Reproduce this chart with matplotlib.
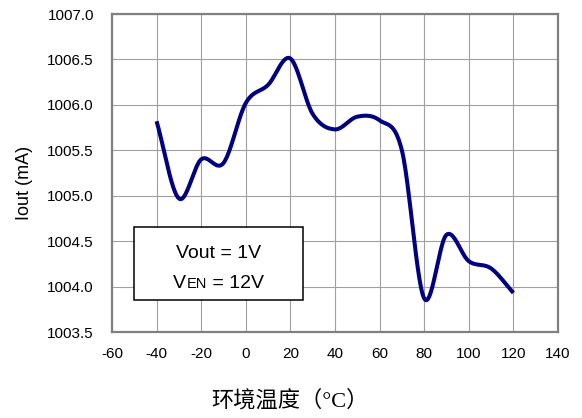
import matplotlib
matplotlib.use("Agg")
import matplotlib.pyplot as plt
import numpy as np

plt.rcParams['font.family'] = ['Liberation Sans', 'DejaVu Sans']

# data
temp = [-40, -30, -20, -10, 0, 10, 20, 30, 40, 50, 60, 70, 80, 90, 100, 110, 120]
iout = [1005.82, 1004.97, 1005.40, 1005.36, 1006.02, 1006.22, 1006.51, 1005.90,
        1005.73, 1005.87, 1005.83, 1005.50, 1003.87, 1004.57, 1004.28, 1004.20, 1003.93]
xticks = [-60, -40, -20, 0, 20, 40, 60, 80, 100, 120, 140]
yticks = [1003.5, 1004.0, 1004.5, 1005.0, 1005.5, 1006.0, 1006.5, 1007.0]


def smooth(x, y, n=24):
    # catmull-rom, close to the spreadsheet "smoothed line"
    pts = np.column_stack([x, y]).astype(float)
    p = np.vstack([2 * pts[0] - pts[1], pts, 2 * pts[-1] - pts[-2]])
    t = np.linspace(0, 1, n, endpoint=False)[:, None]
    segs = []
    for i in range(1, len(p) - 2):
        p0, p1, p2, p3 = p[i - 1:i + 3]
        segs.append(0.5 * (2 * p1 + (p2 - p0) * t
                           + (2 * p0 - 5 * p1 + 4 * p2 - p3) * t ** 2
                           + (3 * p1 - p0 - 3 * p2 + p3) * t ** 3))
    segs.append(pts[-1:])
    s = np.vstack(segs)
    return s[:, 0], s[:, 1]


fig = plt.figure(figsize=(5.82, 4.18), dpi=100)
ax = fig.add_axes([0.1924, 0.2057, 0.7663, 0.7608])

sx, sy = smooth(temp, iout)
ax.plot(sx, sy, color='#000080', lw=2.9, solid_capstyle='butt', zorder=3)

ax.set_xlim(-60, 140)
ax.set_ylim(1003.5, 1007.0)
ax.set_xticks(xticks)
ax.set_yticks(yticks)
ax.set_xticklabels([str(v) for v in xticks])
ax.set_yticklabels(['%.1f' % v for v in yticks])
ax.tick_params(length=0, labelsize=11)
ax.tick_params(axis='y', pad=13)
ax.tick_params(axis='x', pad=11)
ax.grid(True, color='#a0a0a0', lw=0.8)
ax.set_axisbelow(True)
for sp in ax.spines.values():
    sp.set_color('#808080')
    sp.set_linewidth(1.6)

ax.set_ylabel('Iout (mA)', fontsize=13, va='center')
ax.yaxis.set_label_coords(-0.197, 0.469)
ax.set_xlabel('环境温度（°C）', fontsize=16, va='center',
              family=['Liberation Serif', 'Noto Sans CJK SC', 'DejaVu Sans'])
ax.xaxis.set_label_coords(0.399, -0.217)

# condition box
box = plt.Rectangle((0.050, 0.102), 0.378, 0.227, transform=ax.transAxes,
                    facecolor='white', edgecolor='black', lw=1.1, zorder=4)
ax.add_patch(box)
cx = 0.239
ax.text(cx, 0.232, 'Vout = 1V', transform=ax.transAxes, ha='center',
        va='baseline', fontsize=14, zorder=5)

# "VEN = 12V" with smaller EN
fig.canvas.draw()
r = fig.canvas.get_renderer()
parts = [('V', 14), ('EN', 10.5), (' = 12V', 14)]
texts = []
for s, fs in parts:
    texts.append(ax.text(0, 0.137, s, transform=ax.transAxes, ha='left',
                         va='baseline', fontsize=fs, zorder=5))
widths = [t.get_window_extent(r).width for t in texts]
cpx = ax.transAxes.transform((cx, 0))[0]
x0 = cpx - sum(widths) / 2
for t, w in zip(texts, widths):
    t.set_x(ax.transAxes.inverted().transform((x0, 0))[0])
    x0 += w

fig.savefig('out.png', dpi=100)
